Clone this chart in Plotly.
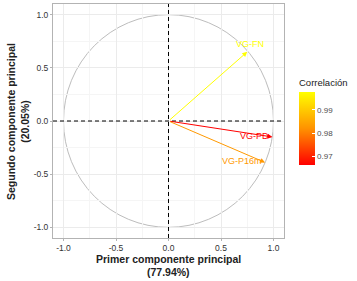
import plotly.graph_objects as go
from plotly.colors import sample_colorscale

variables = ["VG-FN", "VG-PD", "VG-P16m"]
pc1 = [0.75, 0.99, 0.92]
pc2 = [0.65, -0.15, -0.39]
correlacion = [0.9977, 0.9662, 0.9830]
label_x = [0.78, 0.82, 0.70]
label_y = [0.72, -0.14, -0.38]

cmin, cmax = min(correlacion), max(correlacion)
cscale = [[0, "#FF0000"], [0.5, "#FF9200"], [1, "#FFFF00"]]
colors = sample_colorscale(cscale, [(c - cmin) / (cmax - cmin) for c in correlacion])

fig = go.Figure()

# dummy trace for colorbar
fig.add_trace(go.Scatter(
    x=pc1, y=pc2, mode="markers",
    marker=dict(size=0.1, opacity=0, color=correlacion, colorscale=cscale,
                cmin=cmin, cmax=cmax, showscale=True,
                colorbar=dict(
                    title=dict(text="Correlación", font=dict(size=9.5, color="#222"), side="top"),
                    x=1.0, xref="paper", xanchor="left", xpad=15,
                    y=0.312, yanchor="bottom", len=89, lenmode="pixels", ypad=0,
                    thickness=16, outlinewidth=0,
                    tickvals=[0.97, 0.98, 0.99], ticktext=["0.97", "0.98", "0.99"],
                    tickfont=dict(size=8, color="#4D4D4D"),
                    ticks="inside", ticklen=3, tickcolor="white",
                )),
    hoverinfo="skip", showlegend=False))

shapes = [
    dict(type="circle", xref="x", yref="y", x0=-1, y0=-1, x1=1, y1=1,
         line=dict(color="#BDBDBD", width=1), layer="below"),
    dict(type="line", xref="x", yref="paper", x0=0, x1=0, y0=0, y1=1,
         line=dict(color="black", width=1, dash="4px,3px")),
    dict(type="line", xref="paper", yref="y", x0=0, x1=1, y0=0, y1=0,
         line=dict(color="black", width=1, dash="4px,3px")),
]

annotations = []
for v, x, y, c, lx, ly in zip(variables, pc1, pc2, colors, label_x, label_y):
    annotations.append(dict(x=x, y=y, ax=0, ay=0, xref="x", yref="y", axref="x", ayref="y",
                            text="", showarrow=True, arrowhead=2, arrowsize=1,
                            arrowwidth=1, arrowcolor=c))
    annotations.append(dict(x=lx, y=ly, xref="x", yref="y", text=v, showarrow=False,
                            font=dict(size=9, color=c, family="Liberation Sans, Arial")))

for txt, sh in [("<b>Primer componente principal</b>", -21), ("<b>(77.94%)</b>", -34)]:
    annotations.append(dict(x=0.5, y=0, xref="paper", yref="paper", yshift=sh, yanchor="middle",
                            text=txt, showarrow=False, borderpad=0,
                            font=dict(size=10.5, color="#222")))
annotations.append(dict(x=0, y=0.5, xref="paper", yref="paper", xshift=-21, xanchor="right",
                        text="<b>Segundo componente principal<br>(20.05%)</b>", showarrow=False,
                        textangle=-90, font=dict(size=10.5, color="#222"), align="center",
                        borderpad=0))

axis_common = dict(
    range=[-1.1, 1.1], tickvals=[-1, -0.5, 0, 0.5, 1],
    ticktext=["-1.0", "-0.5", "0.0", "0.5", "1.0"],
    tickfont=dict(size=8.5, color="#333333", family="Liberation Sans, Arial"),
    showgrid=True, gridcolor="#EBEBEB", gridwidth=0.8,
    minor=dict(dtick=0.25, showgrid=True, gridcolor="#F5F5F5", gridwidth=0.5),
    zeroline=False, showline=True, linecolor="#B3B3B3", linewidth=1, mirror=True,
    ticks="outside", ticklen=2, tickcolor="#B3B3B3", automargin=False,
)

fig.update_layout(
    width=357, height=281,
    margin=dict(l=53, r=73, t=4, b=43, autoexpand=False),
    paper_bgcolor="white", plot_bgcolor="white",
    font=dict(family="Liberation Sans, Arial"),
    shapes=shapes, annotations=annotations,
    xaxis=dict(**axis_common),
    yaxis=dict(**axis_common),
)

fig.write_html("out.html", config={"displayModeBar": False},
               post_script="document.body.style.margin='0';")
